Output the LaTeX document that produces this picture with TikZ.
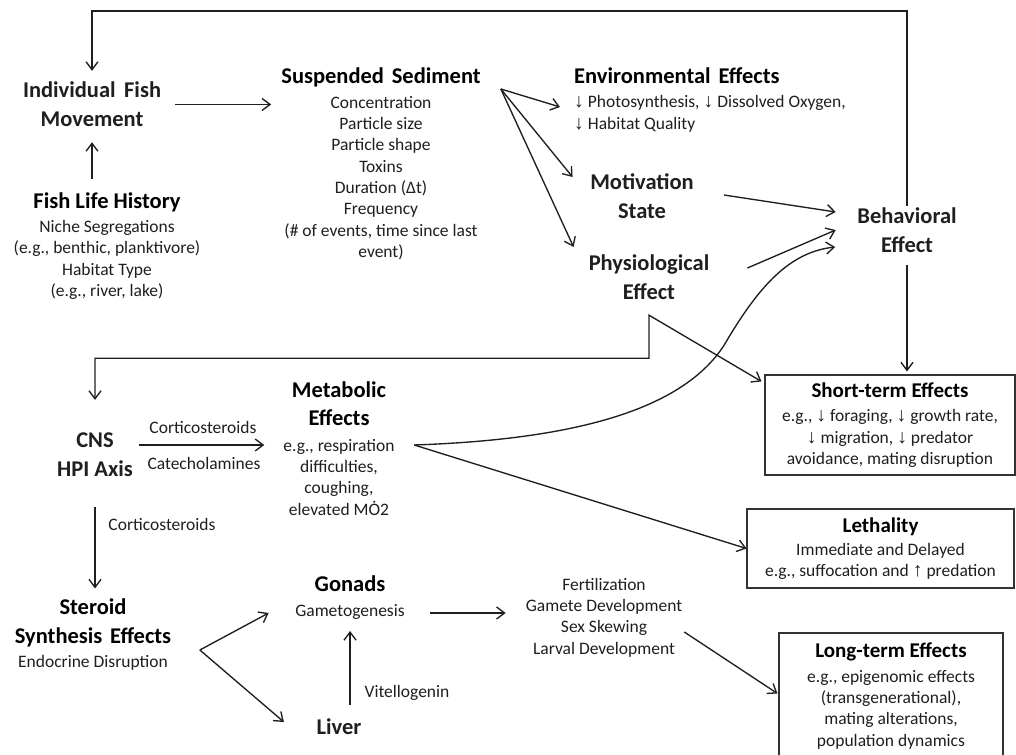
\documentclass[tikz,border=0pt]{standalone}
\usepackage{fontspec}
\setmainfont{Carlito}
\newfontfamily\arrfont{Liberation Sans}
\usetikzlibrary{arrows.meta,calc}
\newcommand{\hdf}{\fontsize{22.5}{29}\selectfont\bfseries\color{black}}
\newcommand{\bhf}{\fontsize{21}{26}\selectfont\bfseries\color{black}}
\newcommand{\bdf}{\fontsize{17.5}{21.3}\selectfont}
\newcommand{\dn}{{\arrfont\fontsize{19.5}{21.3}\selectfont ↓}}
\newcommand{\up}{{\arrfont\fontsize{19.5}{21.3}\selectfont ↑}}
\tikzset{
  ln/.style={line width=1.35pt, draw=black!88},
  arr/.style={ln, -{Straight Barb[length=8pt,width=12pt]}},
  twoarr/.style={ln, {Straight Barb[length=8pt,width=12pt]}-{Straight Barb[length=8pt,width=12pt]}},
  t/.style={inner sep=2pt, align=center, font=\bdf, text=black!88},
  hd/.style={t, font=\hdf},
  box/.style={t, draw=black!80, line width=1.1pt, inner sep=0pt}
}
\begin{document}
\begin{tikzpicture}[x=1pt,y=-1pt]
\useasboundingbox[fill=white] (0,0) rectangle (1016,754);
% nodes
\node[hd] (indiv) at (92,104.5) {Individual\hspace{0.15em} Fish\\Movement};
\node[t] (flh) at (107,246) {{\hdf Fish Life History}\\[3pt]Niche Segregations\\(e.g., benthic, planktivore)\\Habitat Type\\(e.g., river, lake)};
\node[t] (susp) at (381,164) {{\hdf Suspended\hspace{0.12em} Sediment}\\[3pt]Concentration\\Particle size\\Particle shape\\Toxins\\Duration (Δt)\\Frequency\\(\# of events, time since last\\event)};
\node[t, align=left, anchor=west] (env) at (572,100) {{\hdf Environmental\hspace{0.12em} Effects}\\[3pt]\dn\ Photosynthesis, \dn\ Dissolved Oxygen,\\\dn\ Habitat Quality};
\node[hd] (motiv) at (642,196.5) {Motivation\\State};
\node[hd] (physio) at (649,277.5) {Physiological\\Effect};
\node[hd] (behav) at (907,230.5) {Behavioral\\Effect};
\node[hd] (cns) at (95,455) {CNS\\HPI Axis};
\node[t] (metab) at (339,448.5) {{\hdf Metabolic}\\[7pt]{\hdf Effects}\\[4pt]e.g., respiration\\difficulties,\\coughing,\\elevated MȮ2};
\node[t] (steroid) at (93,634.5) {{\hdf Steroid}\\[7.5pt]{\hdf Synthesis\hspace{0.12em} Effects}\\[3pt]Endocrine Disruption};
\node[t] (gonads) at (350,597.5) {{\hdf Gonads}\\[3.5pt]Gametogenesis};
\node[hd] (liver) at (339,727) {Liver};
\node[t] (fert) at (604,617.5) {Fertilization\\Gamete Development\\Sex Skewing\\Larval Development};
\node[box, minimum width=250pt, minimum height=100pt] (short) at (890,425) {{\bhf Short-term Effects}\\[3pt]e.g., \dn\ foraging, \dn\ growth rate,\\\dn\ migration, \dn\ predator\\avoidance, mating disruption};
\node[box, minimum width=267pt, minimum height=79pt] (leth) at (880.5,548.5) {{\bhf Lethality}\\[2pt]Immediate and Delayed\\e.g., suffocation and \up\ predation};
\node[box, minimum width=224pt, minimum height=126pt] (long) at (891,696) {{\bhf Long-term Effects}\\[3pt]e.g., epigenomic effects\\(transgenerational),\\mating alterations,\\population dynamics};
% labels
\node[t] (lc1) at (203,427) {Corticosteroids};
\node[t] (lc2) at (204,463) {Catecholamines};
\node[t] (lc3) at (162,524) {Corticosteroids};
\node[t] (lv) at (407,693) {Vitellogenin};
% coordinates
\coordinate (topc) at (500,11);
\coordinate (fan) at ($(susp.east)+(18,-75)$);
\coordinate (mo) at ($(metab.east)+(17.5,-3.5)$);
\coordinate (cm) at ($(mo)+(310,-100)$);
\coordinate (be3) at ($(behav.west)+(-20,16.5)$);
\coordinate (pk) at ($(physio.south)+(0,13)$);
\coordinate (vx) at ($(steroid.east)+(26.5,15.5)$);
% connectors
\draw[arr] (behav.north) |- (topc) -| ($(indiv.north)+(0,-9)$);
\draw[arr] ($(indiv.east)+(12,0)$) -- ($(indiv.east -| susp.west)+(-8,0)$);
\draw[arr] ($(indiv.south |- flh.north)+(0,-11.5)$) -- ($(indiv.south)+(0,13)$);
\draw[arr] (fan) -- ($(env.west)+(-12,7)$);
\draw[arr] (fan) -- ($(motiv.west)+(-15.5,-19.5)$);
\draw[arr] (fan) -- ($(physio.west)+(-13,-30.5)$);
\draw[arr] ($(motiv.east)+(28,-1.5)$) -- ($(behav.west)+(-19.5,-18.5)$);
\draw[arr] ($(physio.east)+(36,-9.5)$) -- ($(behav.west)+(-19.5,-0.5)$);
\draw[arr] (mo) .. controls +(145,-5) and +(-45,70) .. (cm) .. controls +(35,-60) and +(-45,5) .. (be3);
\draw[arr] (mo) -- (leth.west);
\draw[twoarr] ($(cns.north)+(0,-31)$) |- ($(pk)+(0,43)$) -- (pk) -- ($(short.north west)+(-3,7)$);
\draw[arr] ($(cns.east)+(3.5,-10)$) -- ($(metab.west)+(-17,-3.5)$);
\draw[arr] ($(cns.south)+(0,28)$) -- ($(steroid.north -| cns.south)+(0,-8)$);
\draw[arr] (vx) -- ($(gonads.west)+(-24.5,15.5)$);
\draw[arr] (vx) -- ($(liver.west)+(-30.5,-5)$);
\draw[arr] ($(liver.north)+(11,-11.5)$) -- ($(gonads.south)+(0,9.5)$);
\draw[arr] ($(gonads.east)+(23.5,15.5)$) -- ($(fert.west)+(-18,-4.5)$);
\draw[arr] ($(fert.east)+(0,14.5)$) -- ($(long.west)+(-1,-2.5)$);
\draw[arr] ($(behav.south)+(0,10)$) -- ($(behav.south |- short.north)+(0,-3)$);
\end{tikzpicture}
\end{document}
